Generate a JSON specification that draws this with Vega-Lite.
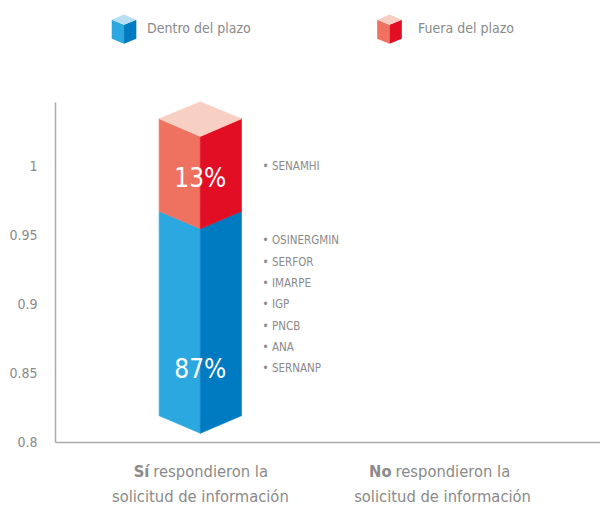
{
  "$schema": "https://vega.github.io/schema/vega-lite/v6.json",
  "width": 545,
  "height": 340,
  "autosize": {"type": "none"},
  "padding": {"left": 55, "top": 102, "right": 0, "bottom": 63},
  "background": "white",
  "config": {
    "view": {"stroke": null},
    "font": "DejaVu Sans Condensed, DejaVu Sans, sans-serif"
  },
  "datasets": {
    "faces": [
      {"face": "Dentro-izq", "x": 0.43, "y": 0.8191, "y2": 0.9676},
      {"face": "Dentro-izq", "x": 0.6, "y": 0.8063, "y2": 0.9549},
      {"face": "Dentro-der", "x": 0.6, "y": 0.8063, "y2": 0.9549},
      {"face": "Dentro-der", "x": 0.77, "y": 0.8191, "y2": 0.9676},
      {"face": "Fuera-izq", "x": 0.43, "y": 0.9676, "y2": 1.0348},
      {"face": "Fuera-izq", "x": 0.6, "y": 0.9549, "y2": 1.022},
      {"face": "Fuera-der", "x": 0.6, "y": 0.9549, "y2": 1.022},
      {"face": "Fuera-der", "x": 0.77, "y": 0.9676, "y2": 1.0348},
      {"face": "Fuera-sup", "x": 0.43, "y": 1.0348, "y2": 1.0348},
      {"face": "Fuera-sup", "x": 0.6, "y": 1.022, "y2": 1.0471},
      {"face": "Fuera-sup", "x": 0.77, "y": 1.0348, "y2": 1.0348}
    ],
    "legendCubes": [
      {"serie": "Dentro del plazo", "face": "Dentro-izq", "part": "izq", "x": 0.285, "y": 1.1},
      {"serie": "Dentro del plazo", "face": "Dentro-der", "part": "der", "x": 0.285, "y": 1.1},
      {"serie": "Dentro del plazo", "face": "Dentro-sup", "part": "sup", "x": 0.285, "y": 1.1},
      {"serie": "Fuera del plazo", "face": "Fuera-izq", "part": "izq", "x": 1.381, "y": 1.1},
      {"serie": "Fuera del plazo", "face": "Fuera-der", "part": "der", "x": 1.381, "y": 1.1},
      {"serie": "Fuera del plazo", "face": "Fuera-sup", "part": "sup", "x": 1.381, "y": 1.1}
    ],
    "legendText": [
      {"serie": "Dentro del plazo", "x": 0.38, "y": 1.1},
      {"serie": "Fuera del plazo", "x": 1.499, "y": 1.1}
    ],
    "pct": [
      {"label": "87%", "x": 0.6, "y": 0.8462},
      {"label": "13%", "x": 0.6, "y": 0.985}
    ],
    "entities": [
      {"x": 0.857, "y": 1.0, "text": "• SENAMHI"},
      {"x": 0.857, "y": 0.9457, "text": "• OSINERGMIN\n• SERFOR\n• IMARPE\n• IGP\n• PNCB\n• ANA\n• SERNANP"}
    ],
    "cats": [
      {"x": 0.6, "bold": "Sí", "rest": "respondieron la", "line2": "solicitud de información"},
      {"x": 1.6, "bold": "No", "rest": "respondieron la", "line2": "solicitud de información"}
    ]
  },
  "encoding": {
    "x": {
      "field": "x",
      "type": "quantitative",
      "scale": {"domain": [0, 2.25], "nice": false, "zero": false},
      "axis": {
        "title": null,
        "labels": false,
        "ticks": false,
        "grid": false,
        "domainColor": "#ababab",
        "domainWidth": 1.5
      }
    }
  },
  "layer": [
    {
      "data": {"name": "faces"},
      "mark": {"type": "area", "strokeWidth": 0.6, "opacity": 1},
      "encoding": {
        "y": {
          "field": "y",
          "type": "quantitative",
          "stack": null,
          "scale": {"domain": [0.8, 1.047], "nice": false, "zero": false},
          "axis": {
            "title": null,
            "values": [0.8, 0.85, 0.9, 0.95, 1],
            "format": "~g",
            "grid": false,
            "ticks": false,
            "labelPadding": 18,
            "labelFontSize": 14,
            "labelColor": "#8a8a8a",
            "domainColor": "#ababab",
            "domainWidth": 1.5
          }
        },
        "y2": {"field": "y2"},
        "color": {
          "field": "face",
          "type": "nominal",
          "scale": {
            "domain": ["Dentro-izq", "Dentro-der", "Dentro-sup", "Fuera-izq", "Fuera-der", "Fuera-sup"],
            "range": ["#2ca8e0", "#007bc2", "#b7def5", "#ee725f", "#e20e24", "#f8d0c3"]
          },
          "legend": null
        },
        "stroke": {
          "field": "face",
          "type": "nominal",
          "scale": {
            "domain": ["Dentro-izq", "Dentro-der", "Dentro-sup", "Fuera-izq", "Fuera-der", "Fuera-sup"],
            "range": ["#2ca8e0", "#007bc2", "#b7def5", "#ee725f", "#e20e24", "#f8d0c3"]
          },
          "legend": null
        }
      }
    },
    {
      "data": {"name": "legendCubes"},
      "mark": {"type": "point", "filled": true, "opacity": 1, "size": 858, "strokeWidth": 0},
      "encoding": {
        "y": {"field": "y", "type": "quantitative"},
        "color": {"field": "face", "type": "nominal", "legend": null},
        "shape": {
          "field": "part",
          "type": "nominal",
          "scale": {
            "domain": ["izq", "der", "sup"],
            "range": [
              "M-0.84,-0.64L0,-0.3L0,1L-0.84,0.655Z",
              "M0.84,-0.64L0,-0.3L0,1L0.84,0.655Z",
              "M0,-1L0.84,-0.64L0,-0.3L-0.84,-0.64Z"
            ]
          },
          "legend": null
        }
      }
    },
    {
      "data": {"name": "legendText"},
      "mark": {"type": "text", "align": "left", "baseline": "middle", "fontSize": 14, "color": "#8a8a8a"},
      "encoding": {
        "y": {"field": "y", "type": "quantitative"},
        "text": {"field": "serie", "type": "nominal"}
      }
    },
    {
      "data": {"name": "pct"},
      "mark": {"type": "text", "align": "center", "baseline": "alphabetic", "fontSize": 26, "color": "white"},
      "encoding": {
        "y": {"field": "y", "type": "quantitative"},
        "text": {"field": "label", "type": "nominal"}
      }
    },
    {
      "data": {"name": "entities"},
      "mark": {"type": "text", "align": "left", "baseline": "middle", "fontSize": 11.5, "color": "#8a8a8a", "lineBreak": "\n", "lineHeight": 21.3},
      "encoding": {
        "y": {"field": "y", "type": "quantitative"},
        "text": {"field": "text", "type": "nominal"}
      }
    },
    {
      "data": {"name": "cats"},
      "mark": {"type": "text", "align": "right", "baseline": "alphabetic", "fontSize": 16.4, "fontWeight": "bold", "color": "#8a8a8a", "dx": -51, "dy": 35},
      "encoding": {
        "y": {"datum": 0.8, "type": "quantitative"},
        "text": {"field": "bold", "type": "nominal"}
      }
    },
    {
      "data": {"name": "cats"},
      "mark": {"type": "text", "align": "left", "baseline": "alphabetic", "fontSize": 16.4, "color": "#8a8a8a", "dx": -47, "dy": 35},
      "encoding": {
        "y": {"datum": 0.8, "type": "quantitative"},
        "text": {"field": "rest", "type": "nominal"}
      }
    },
    {
      "data": {"name": "cats"},
      "mark": {"type": "text", "align": "center", "baseline": "alphabetic", "fontSize": 16.4, "color": "#8a8a8a", "dy": 60},
      "encoding": {
        "y": {"datum": 0.8, "type": "quantitative"},
        "text": {"field": "line2", "type": "nominal"}
      }
    }
  ]
}
